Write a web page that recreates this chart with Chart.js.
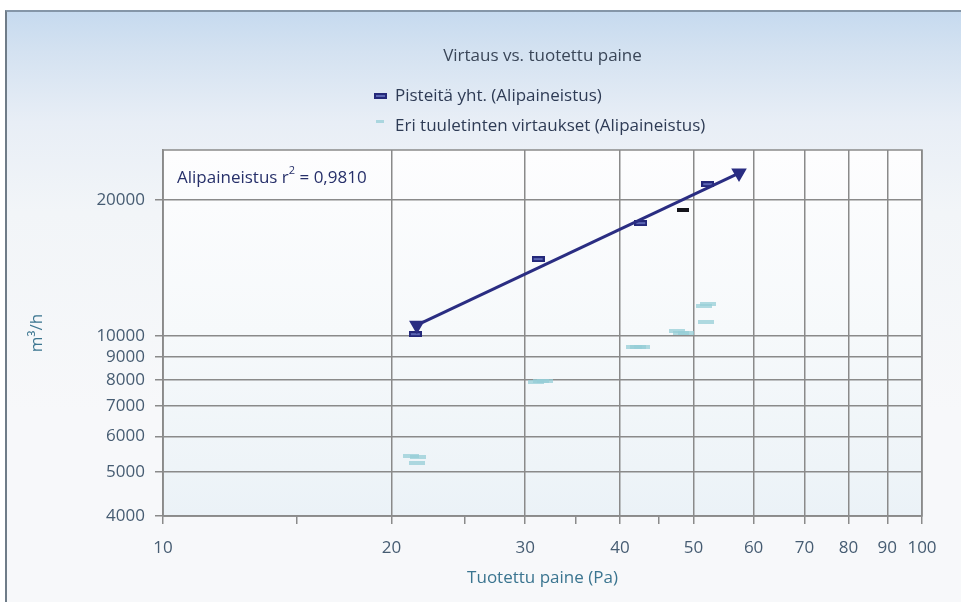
<!DOCTYPE html>
<html><head><meta charset="utf-8">
<script src="https://cdn.jsdelivr.net/npm/chart.js@4.4.1/dist/chart.umd.min.js"></script>
<style>
html,body{margin:0;padding:0;background:#fff;width:961px;height:602px;overflow:hidden;}
#frame{position:absolute;left:5px;top:10px;width:960px;height:600px;border-top:2px solid #8596a8;border-left:2px solid #6f7c88;background:linear-gradient(to bottom,#c6daef 0px,#d4e2f1 40px,#e8eef6 110px,#f2f5f8 200px,#f7f8fa 400px);}
canvas{position:absolute;left:0;top:0;}
</style></head><body>
<div id="frame"></div>
<canvas id="c" width="961" height="602"></canvas>
<script>
// ---- data ----
const chartTitle = 'Virtaus vs. tuotettu paine';
const seriesNames = ['Pisteitä yht. (Alipaineistus)', 'Eri tuuletinten virtaukset (Alipaineistus)'];
const fitName = 'Alipaineistus';
const rSquared = '0,9810';
const totalPressure = [21.5, 31.2, 42.6, 48.4, 52.2];
const totalFlow = [10100, 14800, 17780, 19000, 21680];
const fanPressure = [21.2, 21.7, 21.6, 31.0, 31.5, 31.9, 41.8, 42.3, 42.8, 47.6, 48.2, 48.8, 51.6, 52.2, 51.9];
const fanFlow = [5430, 5410, 5250, 7930, 7970, 7950, 9440, 9470, 9480, 10250, 10180, 10150, 11650, 11760, 10740];
const fitPressure = [21.6, 57.4];
const fitFlow = [10570, 22940];
const xTickValues = [10, 15, 20, 25, 30, 35, 40, 45, 50, 60, 70, 80, 90, 100];
const xLabelValues = [10, 20, 30, 40, 50, 60, 70, 80, 90, 100];
const yTickValues = [4000, 5000, 6000, 7000, 8000, 9000, 10000, 20000];
const xTitle = 'Tuotettu paine (Pa)';
const yTitle = 'm³/h';

// ---- styles ----
const FONT = "'Open Sans', 'Noto Sans', sans-serif";
const GRID = '#8a8a8a';
const NAVY = '#2a2d82';
const CYAN = 'rgba(150,205,215,0.75)';
function markerCanvas(w, h, fill, inner) {
  const c = document.createElement('canvas'); c.width = w; c.height = h;
  const x = c.getContext('2d'); x.fillStyle = fill; x.fillRect(0, 0, w, h);
  if (inner) { x.fillStyle = inner; x.fillRect(2, 2, w - 4, h - 4); }
  return c;
}
const navyMark = markerCanvas(13, 6, '#24287a', '#5b66b4');
const blackMark = markerCanvas(12, 4, '#15151c');
const cyanMark = markerCanvas(16, 4, CYAN);
const totalStyles = totalPressure.map((p, i) => i === 3 ? blackMark : navyMark);

const decor = {
  id: 'decor',
  beforeDraw(chart) {
    const { ctx, chartArea: a } = chart;
    const g = ctx.createLinearGradient(0, a.top, 0, a.bottom);
    g.addColorStop(0, '#fdfdfe'); g.addColorStop(0.5, '#f6f9fb'); g.addColorStop(1, '#ebf2f7');
    ctx.save(); ctx.fillStyle = g; ctx.fillRect(a.left, a.top, a.right - a.left, a.bottom - a.top); ctx.restore();
  },
  beforeDatasetsDraw(chart) {
    const { ctx, chartArea: a } = chart;
    ctx.save();
    ctx.strokeStyle = GRID; ctx.lineWidth = 1.5;
    ctx.strokeRect(a.left, a.top, a.right - a.left, a.bottom - a.top);
    // r² annotation
    ctx.fillStyle = '#27306a'; ctx.textBaseline = 'middle'; ctx.textAlign = 'left';
    ctx.font = '17px ' + FONT;
    let x = a.left + 14, y = a.top + 28;
    const t1 = fitName + ' r';
    ctx.fillText(t1, x, y); x += ctx.measureText(t1).width;
    ctx.font = '11px ' + FONT; ctx.fillText('2', x, y - 7); x += ctx.measureText('2').width;
    ctx.font = '17px ' + FONT; ctx.fillText(' = ' + rSquared, x, y);
    ctx.restore();
  },
  afterDraw(chart) {
    const { ctx, chartArea: a } = chart;
    ctx.save();
    ctx.textBaseline = 'middle';
    ctx.font = '17px ' + FONT; ctx.fillStyle = '#3a4658'; ctx.textAlign = 'center';
    ctx.fillText(chartTitle, (a.left + a.right) / 2, 56);
    ctx.textAlign = 'left'; ctx.fillStyle = '#2e3b55';
    ctx.drawImage(navyMark, 374, 93);
    ctx.fillText(seriesNames[0], 395, 96);
    ctx.fillStyle = CYAN; ctx.fillRect(376, 120, 8, 3);
    ctx.fillStyle = '#2e3b55';
    ctx.fillText(seriesNames[1], 395, 126);
    ctx.restore();
  }
};

new Chart(document.getElementById('c'), {
  type: 'scatter',
  data: {
    datasets: [
      { label: fitName, data: fitPressure.map((p, i) => ({ x: p, y: fitFlow[i] })), showLine: true,
        borderColor: NAVY, borderWidth: 3, backgroundColor: NAVY, pointStyle: 'triangle', rotation: 180, pointRadius: 6 },
      { label: seriesNames[0], data: totalPressure.map((p, i) => ({ x: p, y: totalFlow[i] })), pointStyle: totalStyles },
      { label: seriesNames[1], data: fanPressure.map((p, i) => ({ x: p, y: fanFlow[i] })), pointStyle: cyanMark }
    ]
  },
  options: {
    responsive: false, animation: false, devicePixelRatio: 1,
    layout: { padding: { left: 0, right: 39, top: 150, bottom: 0 } },
    plugins: { legend: { display: false }, tooltip: { enabled: false }, title: { display: false } },
    scales: {
      x: {
        type: 'logarithmic', min: 10, max: 100,
        afterBuildTicks: s => { s.ticks = xTickValues.map(v => ({ value: v })); },
        afterFit: s => { s.height = 86; },
        ticks: { autoSkip: false, maxRotation: 0, minRotation: 0, padding: 14, color: '#465c72',
          font: { family: FONT, size: 17 }, callback: v => xLabelValues.includes(v) ? String(v) : '' },
        grid: { color: c => (c.tick && xLabelValues.includes(c.tick.value)) ? GRID : 'rgba(0,0,0,0)', tickColor: GRID, tickLength: 8, lineWidth: 1.5 },
        border: { display: true, color: GRID, width: 1.5 },
        title: { display: true, text: xTitle, color: '#3b7590', font: { family: FONT, size: 17 }, padding: { top: 6, bottom: 14 } }
      },
      y: {
        type: 'logarithmic', min: 4000, max: 25800,
        afterBuildTicks: s => { s.ticks = yTickValues.map(v => ({ value: v })); },
        afterFit: s => { s.width = 163; },
        ticks: { autoSkip: false, padding: 10, color: '#465c72', font: { family: FONT, size: 17 }, callback: v => String(v) },
        grid: { color: GRID, tickColor: GRID, tickLength: 8, lineWidth: 1.5 },
        border: { display: true, color: GRID, width: 1.5 },
        title: { display: true, text: yTitle, color: '#3b7590', font: { family: FONT, size: 17 }, padding: { top: 27 } }
      }
    }
  },
  plugins: [decor]
});
</script>
</body></html>
